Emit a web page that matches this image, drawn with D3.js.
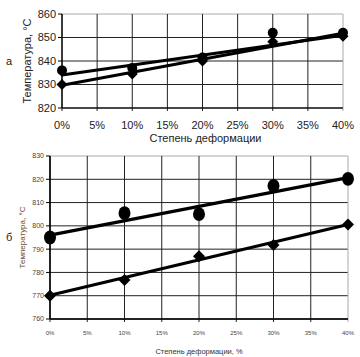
<!DOCTYPE html>
<html><head><meta charset="utf-8">
<script src="https://cdnjs.cloudflare.com/ajax/libs/d3/7.8.5/d3.min.js"></script>
<style>body{margin:0;background:#fff}svg{display:block}text{font-family:"Liberation Sans",Arial,sans-serif}</style>
</head><body><svg id="c" width="360" height="357"></svg>
<script>
const deform = [0, 10, 20, 30, 40];
const xTicks = [0, 5, 10, 15, 20, 25, 30, 35, 40];
// chart а
const aCircle = [836, 837, 841.5, 852, 852];
const aDiamond = [830, 834.5, 840, 848.2, 850.5];
const aCircleTrend = [834, 851.0];
const aDiamondTrend = [829.7, 851.8];
const aYTicks = [820, 830, 840, 850, 860];
// chart б
const bCircle = [795, 805.5, 805, 817.2, 820.2];
const bDiamond = [770, 776.8, 787, 791.8, 800.6];
const bCircleTrend = [796, 820.7];
const bDiamondTrend = [770.2, 800.6];
const bYTicks = [760, 770, 780, 790, 800, 810, 820, 830];

const svg = d3.select("#c");

function panel(o) {
  const g = svg.append("g");
  const x = d3.scaleLinear().domain([0, 40]).range([o.x0, o.x1]);
  const y = d3.scaleLinear().domain(o.yDomain).range([o.y1, o.y0]);
  // gridlines
  g.selectAll(".hg").data(o.yTicks).join("line")
    .attr("x1", o.x0).attr("x2", o.x1)
    .attr("y1", d => y(d)).attr("y2", d => y(d))
    .attr("stroke", (d, i) => i === o.yTicks.length - 1 ? "#aaa" : "#222").attr("stroke-width", 1);
  g.selectAll(".vg").data(xTicks).join("line")
    .attr("x1", d => x(d)).attr("x2", d => x(d))
    .attr("y1", o.y0).attr("y2", o.y1 + 3)
    .attr("stroke", (d, i) => i === xTicks.length - 1 ? "#aaa" : "#222").attr("stroke-width", 1);
  // axes
  g.append("line").attr("x1", o.x0).attr("x2", o.x0).attr("y1", o.y0).attr("y2", o.y1).attr("stroke", "#000").attr("stroke-width", o.axW);
  g.append("line").attr("x1", o.x0).attr("x2", o.x1).attr("y1", o.y1).attr("y2", o.y1).attr("stroke", "#000").attr("stroke-width", o.axW);
  g.selectAll(".yt").data(o.yTicks).join("line")
    .attr("x1", o.x0 - 4).attr("x2", o.x0).attr("y1", d => y(d)).attr("y2", d => y(d)).attr("stroke", "#000");
  // tick labels
  g.selectAll(".yl").data(o.yTicks).join("text")
    .attr("x", o.x0 - 6).attr("y", d => y(d)).attr("dy", "0.35em")
    .attr("text-anchor", "end").attr("font-size", o.tickFs).attr("fill", o.tickFill).text(d => d);
  g.selectAll(".xl").data(xTicks).join("text")
    .attr("x", d => x(d)).attr("y", o.xlY).attr("dy", "0.35em")
    .attr("text-anchor", "middle").attr("font-size", o.xTickFs).attr("fill", o.tickFill).text(d => d + "%");
  // trend lines
  [o.cTrend, o.dTrend].forEach(t => {
    g.append("line").attr("x1", x(0)).attr("x2", x(40)).attr("y1", y(t[0])).attr("y2", y(t[1]))
      .attr("stroke", "#000").attr("stroke-width", o.lw).attr("stroke-linecap", "round");
  });
  // markers
  g.selectAll(".cm").data(o.circ).join("ellipse")
    .attr("cx", (d, i) => x(deform[i])).attr("cy", d => y(d))
    .attr("rx", o.cr).attr("ry", o.cr * o.cRatio).attr("fill", "#000");
  g.selectAll(".dm").data(o.diam).join("path")
    .attr("transform", (d, i) => `translate(${x(deform[i])},${y(d)})`)
    .attr("d", `M0,${-o.dr}L${o.dr},0L0,${o.dr}L${-o.dr},0Z`).attr("fill", "#000");
  // titles
  g.append("text").attr("x", (o.x0 + o.x1) / 2 + o.xtOff).attr("y", o.xtY).attr("dy", "0.35em")
    .attr("text-anchor", "middle").attr("font-size", o.xtFs).attr("fill", o.titleFill).text(o.xTitle);
  g.append("text").attr("transform", `translate(${o.ytX},${(o.y0 + o.y1) / 2}) rotate(-90)`)
    .attr("dy", "0.35em").attr("text-anchor", "middle").attr("font-size", o.ytFs).attr("fill", o.yTitleFill).text(o.yTitle);
  g.append("text").attr("x", o.lblX).attr("y", (o.y0 + o.y1) / 2 + o.lblOff).attr("dy", "0.35em")
    .attr("font-size", 11).attr("fill", "#222").text(o.label);
}

panel({
  x0: 62, x1: 343, y0: 14, y1: 108, yDomain: [820, 860], yTicks: aYTicks,
  axW: 1.2, tickFs: 11, xTickFs: 11, tickFill: "#222", xlY: 125,
  lw: 3, circ: aCircle, diam: aDiamond, cTrend: aCircleTrend, dTrend: aDiamondTrend,
  cr: 5, cRatio: 1, dr: 5.5,
  xTitle: "Степень деформации", xtY: 138, xtFs: 11, xtOff: 3, titleFill: "#222",
  yTitle: "Температура, °С", ytX: 27, ytFs: 11, yTitleFill: "#222",
  label: "а", lblX: 6, lblOff: 0
});
panel({
  x0: 50, x1: 348, y0: 156, y1: 319, yDomain: [760, 830], yTicks: bYTicks,
  axW: 1.5, tickFs: 7, xTickFs: 6, tickFill: "#444", xlY: 333,
  lw: 3.2, circ: bCircle, diam: bDiamond, cTrend: bCircleTrend, dTrend: bDiamondTrend,
  cr: 6, cRatio: 1.15, dr: 6,
  xTitle: "Степень деформации, %", xtY: 351, xtFs: 7.5, xtOff: 0, titleFill: "#333",
  yTitle: "Температура, °С", ytX: 22, ytFs: 8, yTitleFill: "#6b4a2a",
  label: "б", lblX: 6, lblOff: 0
});
</script></body></html>
